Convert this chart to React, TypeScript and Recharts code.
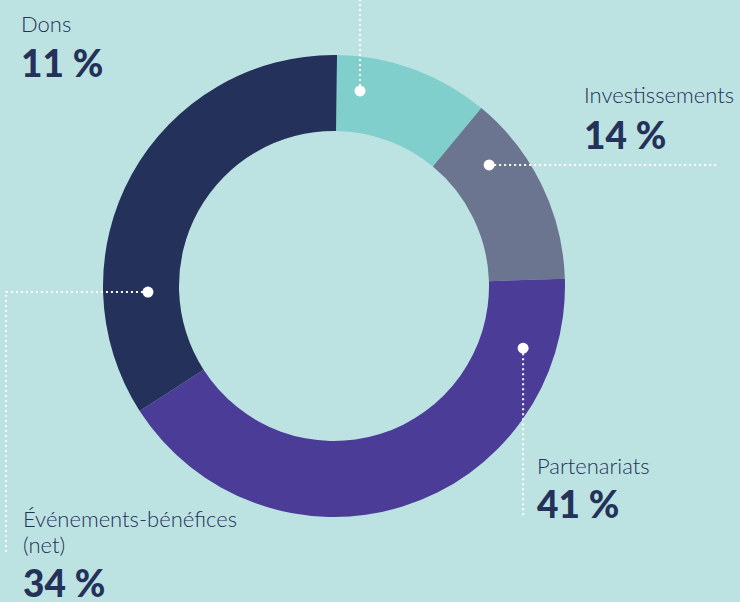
import React from 'react';
import { PieChart, Pie, Cell } from 'recharts';

const categories = ['Dons', 'Investissements', 'Partenariats', 'Événements-bénéfices (net)'];
const values = [10.8, 13.5, 41.4, 34.3];
const pctLabels = ['11 %', '14 %', '41 %', '34 %'];
const nameLines = [['Dons'], ['Investissements'], ['Partenariats'], ['Événements-bénéfices', '(net)']];
const colors = ['#80cfcc', '#6c7590', '#4b3c97', '#24315a'];

const data = categories.map((name, i) => ({ name, value: values[i] }));

// annotation layout (positions only)
const layout = [
  { x: 21, y: 32, pctY: 77, frac: 0.176, rFrac: 0.55, path: (d: number[]) => [d, [d[0], 0]] },
  { x: 584, y: 103, pctY: 149, frac: 0.255, rFrac: 0.55, path: (d: number[]) => [d, [718, d[1]]] },
  { x: 537, y: 474, pctY: 518, frac: 0.134, rFrac: 0.58, path: (d: number[]) => [d, [d[0], 518]] },
  { x: 23, y: 527, pctY: 597, frac: 0.25, rFrac: 0.41, path: (d: number[]) => [d, [6, d[1]], [6, 553]] },
];

const TEXT = '#243159';
const RAD = Math.PI / 180;

const renderLabel = (props: any) => {
  const { cx, cy, startAngle, endAngle, innerRadius, outerRadius, index } = props;
  const L = layout[index];
  const ang = startAngle + L.frac * (endAngle - startAngle);
  const r = innerRadius + L.rFrac * (outerRadius - innerRadius);
  const dot = [cx + r * Math.cos(-ang * RAD), cy + r * Math.sin(-ang * RAD)];
  const pts = L.path(dot);
  const lines = nameLines[index];
  return (
    <g key={`lbl-${index}`}>
      <polyline
        points={pts.map((p: number[]) => p.join(',')).join(' ')}
        fill="none"
        stroke="#ffffff"
        strokeWidth={2}
        strokeDasharray="2 3"
      />
      <circle cx={dot[0]} cy={dot[1]} r={5.5} fill="#ffffff" />
      {lines.map((t, k) => (
        <text key={k} x={L.x} y={L.y + k * 26} fill={TEXT} fontSize={22} fontFamily="Lato, sans-serif" fontWeight={300}>
          {t}
        </text>
      ))}
      <text x={L.x} y={L.pctY} fill={TEXT} fontSize={37} fontFamily="Lato, sans-serif" fontWeight={900}>
        {pctLabels[index]}
      </text>
    </g>
  );
};

export default function App() {
  if (typeof document !== 'undefined') document.body.style.margin = '0';
  return (
    <div style={{ width: 740, height: 602, background: '#bce3e2' }}>
      <PieChart width={740} height={602} margin={{ top: 0, right: 0, bottom: 0, left: 0 }}>
        <Pie
          data={data}
          dataKey="value"
          nameKey="name"
          cx={334}
          cy={286}
          innerRadius={155}
          outerRadius={231}
          startAngle={89.25}
          endAngle={-270.75}
          stroke="none"
          isAnimationActive={false}
          label={renderLabel}
          labelLine={false}
        >
          {data.map((d, i) => (
            <Cell key={d.name} fill={colors[i]} />
          ))}
        </Pie>
      </PieChart>
    </div>
  );
}
